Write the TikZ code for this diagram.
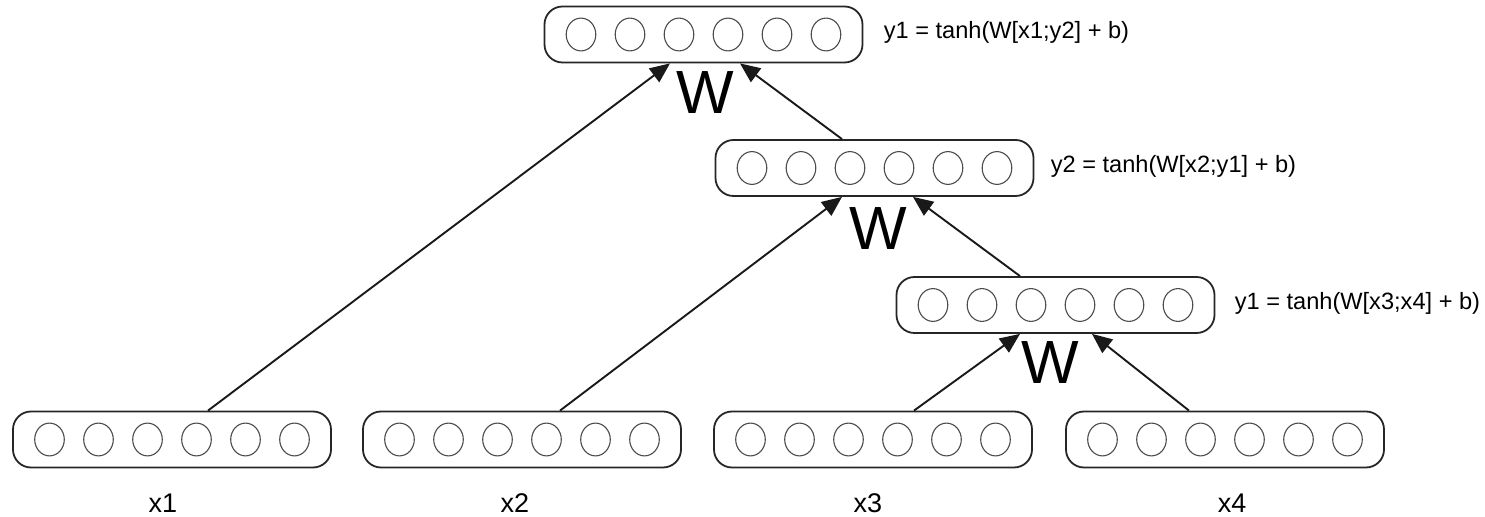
\documentclass[tikz,border=0pt]{standalone}
\usepackage{fontspec}
\setmainfont{Liberation Sans}
\usetikzlibrary{arrows.meta}

% one layer: a rounded box holding six units
\newcommand\nnlayer[3]{%
  \node[layerbox] (#1) at (#2,#3) {};
  \foreach \k in {-61.25,-36.75,-12.25,12.25,36.75,61.25}
    \draw[unit] ([xshift=\k pt]#1.center) ellipse (7.4pt and 8.2pt);
}

\begin{document}
\begin{tikzpicture}[x=0.5pt,y=-0.5pt,
  layerbox/.style={draw=black!85,line width=0.9pt,rounded corners=9pt,
    minimum width=159pt,minimum height=28pt,inner sep=0pt},
  unit/.style={draw=black!70,line width=0.55pt},
  conn/.style={draw=black!90,line width=0.95pt,
    -{Triangle[length=10pt,width=8.5pt]}},
  wlabel/.style={font=\fontsize{30.5}{32}\selectfont,inner sep=0pt},
  xlabel/.style={font=\fontsize{13.5}{15}\selectfont,inner sep=0pt},
  eqlabel/.style={font=\fontsize{11.8}{13}\selectfont,inner sep=0pt,anchor=base west}]

\useasboundingbox (0,0) rectangle (1485,517);

% input vectors
\nnlayer{x1}{172}{439.5}
\nnlayer{x2}{522}{439.5}
\nnlayer{x3}{873}{439.5}
\nnlayer{x4}{1225}{439.5}

% composed vectors
\nnlayer{y3}{1055.5}{305}
\nnlayer{y2}{874.5}{168}
\nnlayer{y1}{703.5}{34.5}

% input names
\node[xlabel] (lx1) at (163,503) {x1};
\node[xlabel] (lx2) at (515,503) {x2};
\node[xlabel] (lx3) at (868,503) {x3};
\node[xlabel] (lx4) at (1232,503) {x4};

% shared weight matrix
\node[wlabel] (w1) at (705,92.5) {W};
\node[wlabel] (w2) at (878,229) {W};
\node[wlabel] (w3) at (1050,363) {W};

% composition rules
\node[eqlabel] (e1) at ([xshift=10pt,yshift=-2.25pt]y1.east) {y1 = tanh(W[x1;y2] + b)};
\node[eqlabel] (e2) at ([xshift=8pt,yshift=-2.25pt]y2.east) {y2 = tanh(W[x2;y1] + b)};
\node[eqlabel] (e3) at ([xshift=9.5pt,yshift=-2.25pt]y3.east) {y1 = tanh(W[x3;x4] + b)};

% connectors
\draw[conn] ([xshift=20.5pt]x3.north) -- ([xshift=-17.75pt]y3.south);
\draw[conn] ([xshift=-18pt]x4.north) -- ([xshift=18.25pt]y3.south);
\draw[conn] ([xshift=19pt]x2.north) -- ([xshift=-16.25pt]y2.south);
\draw[conn] ([xshift=-17.75pt]y3.north) -- ([xshift=19.25pt]y2.south);
\draw[conn] ([xshift=18pt]x1.north) -- ([xshift=-16.75pt]y1.south);
\draw[conn] ([xshift=-16.25pt]y2.north) -- ([xshift=18.25pt]y1.south);

\end{tikzpicture}
\end{document}
